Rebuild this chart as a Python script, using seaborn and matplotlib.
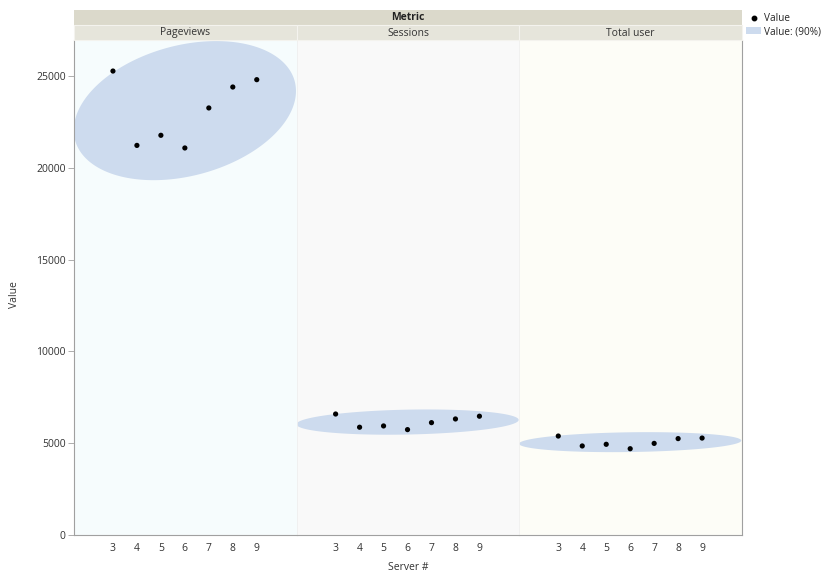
import numpy as np
import pandas as pd
import seaborn as sns
import matplotlib.pyplot as plt
from matplotlib.patches import Rectangle, Patch
from matplotlib.lines import Line2D

servers = [3, 4, 5, 6, 7, 8, 9]
metrics = ["Pageviews", "Sessions", "Total user"]
pageviews = [25270, 21220, 21770, 21080, 23260, 24400, 24800]
sessions = [6590, 5870, 5940, 5740, 6120, 6320, 6470]
total_user = [5390, 4850, 4940, 4700, 4990, 5250, 5280]
y_ticks = [0, 5000, 10000, 15000, 20000, 25000]

series = {"Pageviews": pageviews, "Sessions": sessions, "Total user": total_user}
df = pd.concat([pd.DataFrame({"Server #": servers, "Value": v, "Metric": m})
                for m, v in series.items()], ignore_index=True)

sns.set_theme(style="white")
plt.rcParams['font.family'] = ['Open Sans', 'DejaVu Sans']

W, H = 826, 571
fig = plt.figure(figsize=(W / 100, H / 100), dpi=100)
left_px, right_px, top_px, bot_px = 74, 742, 40, 535
pw = (right_px - left_px) / 3
bgs = ["#f6fcfd", "#f9f9f9", "#fdfdf7"]
ell_color = "#cddbee"
r = np.sqrt(-2 * np.log(0.1))
t = np.linspace(0, 2 * np.pi, 300)
ymax = (bot_px - top_px) / ((535 - 76) / 25000)

axes = []
for i, m in enumerate(metrics):
    x0 = (left_px + i * pw) / W
    ax = fig.add_axes([x0, 1 - bot_px / H, pw / W, (bot_px - top_px) / H])
    axes.append(ax)
    ax.set_facecolor(bgs[i])
    sub = df[df["Metric"] == m]
    xs = sub["Server #"].to_numpy(float)
    ys = sub["Value"].to_numpy(float)
    cov = np.cov(np.vstack([xs, ys]))
    L = np.linalg.cholesky(cov)
    pts = np.array([xs.mean(), ys.mean()])[:, None] + r * L @ np.vstack([np.cos(t), np.sin(t)])
    ax.fill(pts[0], pts[1], color=ell_color, lw=0, zorder=1)
    sns.scatterplot(data=sub, x="Server #", y="Value", ax=ax, color="black",
                    s=14, edgecolor="none", zorder=3, legend=False)
    ax.set_xlim(1.375, 10.665)
    ax.set_ylim(0, ymax)
    ax.set_xticks(servers)
    ax.set_xticklabels([str(s) for s in servers], fontsize=7.5, color="#333333")
    ax.tick_params(axis="x", length=0, pad=6)
    ax.set_xlabel("")
    ax.set_ylabel("")
    for sp in ax.spines.values():
        sp.set_visible(False)
    ax.spines["bottom"].set_visible(True)
    ax.spines["bottom"].set_color("#a0a0a0")
    ax.spines["bottom"].set_linewidth(0.8)
    if i == 0:
        ax.spines["left"].set_visible(True)
        ax.spines["left"].set_color("#a0a0a0")
        ax.spines["left"].set_linewidth(0.8)
        ax.set_yticks(y_ticks)
        ax.set_yticklabels([str(v) for v in y_ticks], fontsize=7.5, color="#333333")
        ax.tick_params(axis="y", length=4, width=0.6, color="#a0a0a0", left=True, pad=2)
    else:
        ax.set_yticks([])
        ax.spines["left"].set_visible(True)
        ax.spines["left"].set_color("#efefef")
        ax.spines["left"].set_linewidth(0.6)
    if i == 2:
        ax.spines["right"].set_visible(True)
        ax.spines["right"].set_color("#a0a0a0")
        ax.spines["right"].set_linewidth(0.8)

# header bars
fig.patches.append(Rectangle((left_px / W, 1 - 25 / H), (right_px - left_px) / W, 15 / H,
                             transform=fig.transFigure, facecolor="#dbd9cb", edgecolor="none"))
fig.text((left_px + right_px) / 2 / W, 1 - 17.5 / H, "Metric", ha="center", va="center",
         fontsize=7.5, fontweight="bold", color="#222222")
for i, m in enumerate(metrics):
    x0 = left_px + i * pw
    fig.patches.append(Rectangle((x0 / W, 1 - 40 / H), pw / W, 15 / H,
                                 transform=fig.transFigure, facecolor="#e6e5db",
                                 edgecolor="#f4f3ee", linewidth=0.8))
    fig.text((x0 + pw / 2) / W, 1 - 33 / H, m, ha="center", va="center",
             fontsize=7.5, color="#333333")

fig.text(15 / W, 1 - 295 / H, "Value", rotation=90, ha="center", va="center",
         fontsize=7.5, color="#333333")
fig.text(408 / W, 1 - 567 / H, "Server #", ha="center", va="center",
         fontsize=7.5, color="#333333")

handles = [Line2D([], [], marker="o", color="black", ls="none", markersize=3.2),
           Patch(facecolor=ell_color, edgecolor="none")]
fig.legend(handles, ["Value", "Value: (90%)"], loc="upper left",
           bbox_to_anchor=(746 / W, 1 - 13 / H), frameon=False, fontsize=7.2,
           handlelength=1.5, handletextpad=0.3, labelspacing=0.2, borderpad=0,
           borderaxespad=0)

fig.savefig("out.png", dpi=100)
